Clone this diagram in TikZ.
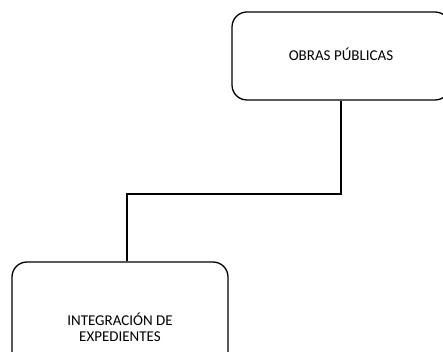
\documentclass[tikz,border=0pt]{standalone}
\usepackage{fontspec}
\setmainfont{Carlito}
\begin{document}
\begin{tikzpicture}[x=1pt,y=1pt,
  box/.style={draw=black, line width=1.3pt, rounded corners=15pt, align=center,
    font=\fontsize{15}{17}\selectfont, inner sep=0pt},
  conn/.style={draw=black, line width=2pt}]
\useasboundingbox (0,0) rectangle (443,352);
\clip (0,0) rectangle (443,352);
\node[box, minimum width=218pt, minimum height=88pt] (top) at (341,296) {\raisebox{4pt}{OBRAS PÚBLICAS}};
\node[box, minimum width=216pt, minimum height=136pt] (bot) at (120,22) {\raisebox{3pt}{\begin{tabular}{@{}c@{}}INTEGRACIÓN DE\\[-1pt]EXPEDIENTES\end{tabular}}};
\coordinate (m) at (0,158);
\draw[conn] (top.south) -- (top.south |- m) -| ([xshift=7pt]bot.north);
\end{tikzpicture}
\end{document}
